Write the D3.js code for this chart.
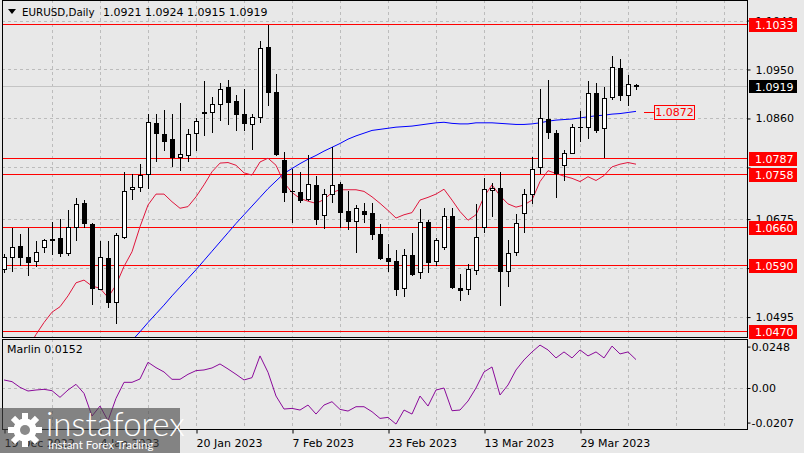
<!DOCTYPE html>
<html><head><meta charset="utf-8">
<script src="https://cdn.jsdelivr.net/npm/d3@7"></script>
<style>html,body{margin:0;padding:0;background:#e8e8e8;overflow:hidden}
text{font-family:"DejaVu Sans",sans-serif;font-size:11px}</style>
</head><body><svg id="c" width="804" height="453"></svg>
<script>
// ---- data ----
const title = "EURUSD,Daily";
const lastOHLC = [1.0921, 1.0924, 1.0915, 1.0919];
const opens  = [1.0583,1.0605,1.0626,1.0605,1.0598,1.0623,1.0638,1.0640,1.0612,1.0661,1.0705,1.0666,1.0547,1.0603,1.0522,1.0643,1.0730,1.0734,1.0758,1.0851,1.0831,1.0822,1.0789,1.0792,1.0833,1.0871,1.0872,1.0886,1.0917,1.0892,1.0868,1.0849,1.0863,1.0991,1.0909,1.0784,1.0727,1.0724,1.0712,1.0738,1.0683,1.0722,1.0740,1.0690,1.0672,1.0690,1.0686,1.0647,1.0603,1.0598,1.0548,1.0609,1.0577,1.0669,1.0598,1.0624,1.0680,1.0549,1.0546,1.0582,1.0661,1.0729,1.0732,1.0579,1.0614,1.0686,1.0722,1.0770,1.0859,1.0833,1.0774,1.0797,1.0845,1.0844,1.0906,1.0842,1.0899,1.0952,1.0904,1.0921];
const highs  = [1.0611,1.0659,1.0647,1.0659,1.0635,1.0639,1.0670,1.0675,1.0692,1.0713,1.0710,1.0667,1.0634,1.0634,1.0649,1.0761,1.0758,1.0776,1.0868,1.0869,1.0876,1.0869,1.0889,1.0840,1.0860,1.0929,1.0899,1.0926,1.0931,1.0903,1.0915,1.0868,1.1003,1.1032,1.0942,1.0799,1.0767,1.0761,1.0793,1.0754,1.0730,1.0808,1.0744,1.0726,1.0701,1.0705,1.0704,1.0666,1.0629,1.0618,1.0621,1.0649,1.0693,1.0673,1.0640,1.0695,1.0695,1.0575,1.0592,1.0703,1.0751,1.0741,1.0761,1.0637,1.0684,1.0730,1.0790,1.0914,1.0931,1.0839,1.0802,1.0850,1.0874,1.0929,1.0926,1.0917,1.0975,1.0970,1.0940,1.0924];
const lows   = [1.0577,1.0579,1.0591,1.0572,1.0588,1.0615,1.0611,1.0608,1.0610,1.0637,1.0661,1.0519,1.0546,1.0514,1.0484,1.0640,1.0712,1.0726,1.0732,1.0781,1.0802,1.0773,1.0765,1.0782,1.0802,1.0830,1.0836,1.0857,1.0850,1.0838,1.0839,1.0803,1.0854,1.0885,1.0792,1.0709,1.0669,1.0707,1.0710,1.0666,1.0658,1.0707,1.0661,1.0656,1.0614,1.0670,1.0638,1.0601,1.0579,1.0536,1.0533,1.0572,1.0566,1.0577,1.0591,1.0621,1.0548,1.0527,1.0538,1.0575,1.0651,1.0680,1.0518,1.0553,1.0609,1.0651,1.0705,1.0760,1.0825,1.0715,1.0746,1.0796,1.0819,1.0825,1.0836,1.0790,1.0896,1.0894,1.0885,1.0915];
const closes = [1.0606,1.0623,1.0605,1.0597,1.0614,1.0637,1.0636,1.0612,1.0660,1.0703,1.0667,1.0548,1.0605,1.0522,1.0645,1.0727,1.0734,1.0757,1.0853,1.0833,1.0819,1.0789,1.0794,1.0831,1.0855,1.0870,1.0886,1.0915,1.0891,1.0869,1.0851,1.0863,1.0989,1.0909,1.0795,1.0725,1.0726,1.0710,1.0740,1.0676,1.0722,1.0738,1.0689,1.0672,1.0696,1.0684,1.0647,1.0604,1.0598,1.0546,1.0610,1.0575,1.0669,1.0597,1.0637,1.0680,1.0550,1.0545,1.0583,1.0643,1.0730,1.0733,1.0579,1.0613,1.0667,1.0721,1.0768,1.0860,1.0835,1.0760,1.0797,1.0844,1.0844,1.0906,1.0839,1.0897,1.0954,1.0904,1.0923,1.0919];
const slowMAStart = 16;
const slowMA = [1.0452,1.0468,1.0485,1.0501,1.0517,1.0534,1.0550,1.0566,1.0582,1.0599,1.0616,1.0633,1.0650,1.0667,1.0683,1.0699,1.0715,1.0731,1.0745,1.0759,1.0768,1.0777,1.0785,1.0792,1.0800,1.0807,1.0814,1.0822,1.0828,1.0833,1.0838,1.0840,1.0842,1.0844,1.0845,1.0846,1.0848,1.0850,1.0852,1.0853,1.0851,1.0850,1.0850,1.0852,1.0852,1.0852,1.0851,1.0850,1.0849,1.0849,1.0850,1.0852,1.0855,1.0857,1.0858,1.0859,1.0861,1.0863,1.0865,1.0866,1.0868,1.0869,1.0871,1.0873];
const fastMAStart = 3;
const fastMA = [1.0438,1.0463,1.0485,1.0504,1.0514,1.0534,1.0558,1.0563,1.0552,1.0548,1.0531,1.0554,1.0588,1.0615,1.0661,1.0701,1.0721,1.0721,1.0707,1.0695,1.0698,1.0716,1.0738,1.0762,1.0778,1.0779,1.0774,1.0760,1.0756,1.0780,1.0787,1.0774,1.0742,1.0724,1.0713,1.0708,1.0704,1.0711,1.0724,1.0729,1.0729,1.0729,1.0726,1.0716,1.0704,1.0691,1.0677,1.0683,1.0687,1.0710,1.0715,1.0721,1.0730,1.0710,1.0689,1.0673,1.0683,1.0716,1.0738,1.0718,1.0703,1.0697,1.0701,1.0710,1.0744,1.0764,1.0759,1.0754,1.0750,1.0744,1.0753,1.0746,1.0755,1.0771,1.0776,1.0779,1.0776];
const marlin = [0.0048,0.0038,0.0004,-0.0018,-0.0012,-0.0008,-0.0016,-0.0056,-0.0012,0.0022,-0.0032,-0.0168,-0.0108,-0.0196,-0.0062,0.0034,0.0034,0.0054,0.0154,0.0122,0.0096,0.0052,0.0052,0.0082,0.0104,0.0108,0.0120,0.0144,0.0114,0.0082,0.0048,0.0062,0.0192,0.0094,-0.0048,-0.0126,-0.0122,-0.0132,-0.0102,-0.0156,-0.0102,-0.0082,-0.0128,-0.0138,-0.0112,-0.0112,-0.0142,-0.0182,-0.0176,-0.0216,-0.0132,-0.0156,-0.0048,-0.0108,-0.0012,0.0000,-0.0136,-0.0132,-0.0078,0.0000,0.0096,0.0126,-0.0042,0.0018,0.0108,0.0168,0.0216,0.0257,0.0228,0.0180,0.0216,0.0180,0.0228,0.0192,0.0216,0.0180,0.0251,0.0204,0.0216,0.0170];
const levels = [1.1033, 1.0787, 1.0758, 1.0660, 1.0590, 1.0470];
const priceTicks = [1.1040, 1.0950, 1.0860, 1.0770, 1.0675, 1.0585, 1.0495];
const priceTickLabels = [1.1040, 1.0950, 1.0860, 1.0675, 1.0495]; // labels not hidden by level boxes
const marlinTicks = [0.0248, 0, -0.0207];
const marlinTickLabels = ["0.0248", "0.00", "-0.0207"];
const dateTickIdx = [0, 12, 24, 36, 48, 60, 72];
const dateLabels = ["19 Dec 2022", "4 Jan 2023", "20 Jan 2023", "7 Feb 2023", "23 Feb 2023", "13 Mar 2023", "29 Mar 2023"];
const gridIdx = [6,12,18,24,30,36,42,48,54,60,66,72,78,84,90];
const slowMALabel = 1.0872;
const marlinName = "Marlin";
const marlinLast = 0.0152;

// ---- layout ----
const L = 2, R = 747, MT = 0, MB = 337, IT = 339, IB = 429;
const svg = d3.select("#c");
const x = d3.scaleLinear().domain([0, 79]).range([4, 636]);
const y = d3.scaleLinear().domain([1.04584, 1.10777]).range([MB, MT]);
const ym = d3.scaleLinear().domain([-0.02455, 0.02934]).range([IB, IT]);
const px = v => Math.round(v) + 0.5;
const fmt4 = d3.format(".4f");

const defs = svg.append("defs");
defs.append("clipPath").attr("id", "cm").append("rect").attr("x", L).attr("y", MT).attr("width", R - L).attr("height", MB - MT);
defs.append("clipPath").attr("id", "ci").append("rect").attr("x", L).attr("y", IT).attr("width", R - L).attr("height", IB - IT);

svg.append("rect").attr("width", 804).attr("height", 453).attr("fill", "#e8e8e8");

const grid = svg.append("g").attr("stroke", "#bcbcbc").attr("stroke-dasharray", "3,3").attr("shape-rendering", "crispEdges");
grid.selectAll(".hg").data(priceTicks).join("line")
  .attr("x1", L).attr("x2", R).attr("y1", d => px(y(d))).attr("y2", d => px(y(d)));
grid.selectAll(".vg").data(gridIdx).join("line")
  .attr("x1", d => px(x(d))).attr("x2", d => px(x(d))).attr("y1", MT).attr("y2", MB);
const grid2 = svg.append("g").attr("stroke", "#bcbcbc").attr("stroke-dasharray", "3,3").attr("shape-rendering", "crispEdges");
grid2.selectAll("line.v").data(gridIdx).join("line")
  .attr("x1", d => px(x(d))).attr("x2", d => px(x(d))).attr("y1", IT).attr("y2", IB);
grid2.append("line").attr("x1", L).attr("x2", R).attr("y1", px(ym(0))).attr("y2", px(ym(0)));

// current price line
svg.append("line").attr("x1", L).attr("x2", R).attr("y1", px(y(lastOHLC[3]))).attr("y2", px(y(lastOHLC[3])))
  .attr("stroke", "#c4c4c4").attr("shape-rendering", "crispEdges");

// level lines
const main = svg.append("g").attr("clip-path", "url(#cm)");
main.selectAll("line.lv").data(levels).join("line")
  .attr("x1", L).attr("x2", R).attr("y1", d => px(y(d))).attr("y2", d => px(y(d)))
  .attr("stroke", "#ff0000").attr("stroke-width", 1).attr("shape-rendering", "crispEdges");

// moving averages
const line = d3.line().x(d => x(d[0])).y(d => y(d[1]));
main.append("path").datum(slowMA.map((v, k) => [k + slowMAStart, v]))
  .attr("d", line).attr("fill", "none").attr("stroke", "#0000ff").attr("stroke-width", 1);
main.append("path").datum(fastMA.map((v, k) => [k + fastMAStart, v]))
  .attr("d", line).attr("fill", "none").attr("stroke", "#e0163c").attr("stroke-width", 1);

// candles
const cd = opens.map((o, i) => ({i, o, h: highs[i], l: lows[i], c: closes[i]}));
const cg = main.append("g").attr("shape-rendering", "crispEdges");
cg.selectAll("line.w").data(cd).join("line")
  .attr("x1", d => px(x(d.i))).attr("x2", d => px(x(d.i)))
  .attr("y1", d => Math.round(y(d.h))).attr("y2", d => Math.round(y(d.l)) + 1)
  .attr("stroke", "#000");
cd.forEach(d => {
  const top = Math.round(y(Math.max(d.o, d.c))), bot = Math.round(y(Math.min(d.o, d.c)));
  const cx = Math.round(x(d.i));
  if (bot - top < 1) {
    cg.append("line").attr("x1", cx - 2).attr("x2", cx + 3).attr("y1", top + 0.5).attr("y2", top + 0.5).attr("stroke", "#000");
  } else {
    cg.append("rect").attr("x", cx - 2 + 0.5).attr("y", top + 0.5).attr("width", 4).attr("height", bot - top)
      .attr("fill", d.c < d.o ? "#000" : "#fff").attr("stroke", "#000");
  }
});

// indicator
const ig = svg.append("g").attr("clip-path", "url(#ci)");
ig.append("path").datum(marlin.map((v, i) => [i, v]))
  .attr("d", d3.line().x(d => x(d[0])).y(d => ym(d[1])))
  .attr("fill", "none").attr("stroke", "#8a0a9a").attr("stroke-width", 1);

// borders
const bd = svg.append("g").attr("fill", "none").attr("stroke", "#000").attr("shape-rendering", "crispEdges");
bd.append("rect").attr("x", L + 0.5).attr("y", MT + 0.5).attr("width", R - L).attr("height", MB - MT);
bd.append("rect").attr("x", L + 0.5).attr("y", IT + 0.5).attr("width", R - L).attr("height", IB - IT);

// price axis
const pa = svg.append("g").attr("transform", `translate(${R + 0.5},0)`)
  .call(d3.axisRight(y).tickValues(priceTicks).tickSize(3).tickPadding(5)
    .tickFormat(d => priceTickLabels.includes(d) ? fmt4(d) : ""));
pa.select(".domain").remove();
pa.selectAll("text").attr("font-family", "DejaVu Sans").attr("font-size", 11).attr("fill", "#000");
pa.selectAll("line").attr("stroke", "#000");

// indicator axis
const ia = svg.append("g").attr("transform", `translate(${R + 0.5},0)`)
  .call(d3.axisRight(ym).tickValues(marlinTicks).tickSize(3).tickPadding(1).tickFormat((d, k) => marlinTickLabels[k]));
ia.select(".domain").remove();
ia.selectAll("text").attr("font-family", "DejaVu Sans").attr("font-size", 11).attr("fill", "#000");
ia.selectAll("line").attr("stroke", "#000");

// date axis
const da = svg.append("g").attr("transform", `translate(0,${IB + 0.5})`)
  .call(d3.axisBottom(x).tickValues(dateTickIdx).tickSize(4).tickPadding(3).tickFormat((d, k) => dateLabels[k]));
da.select(".domain").remove();
da.selectAll(".tick line").attr("stroke", "#000").attr("transform", "translate(0.5,0)");
da.selectAll("text").attr("text-anchor", "start").attr("x", 0).attr("dy", "0.95em")
  .attr("font-family", "DejaVu Sans").attr("font-size", 11).attr("fill", "#000");

// level labels (right)
const lvl = svg.append("g");
levels.forEach(v => {
  const yy = Math.round(y(v));
  lvl.append("rect").attr("x", 749).attr("y", yy - 6).attr("width", 48).attr("height", 14).attr("fill", "#ff0000");
  lvl.append("text").attr("x", 755).attr("y", yy + 1).attr("dy", "0.35em").attr("fill", "#fff").text(fmt4(v));
});
{
  const yy = Math.round(y(lastOHLC[3]));
  lvl.append("rect").attr("x", 749).attr("y", yy - 6).attr("width", 48).attr("height", 13).attr("fill", "#000");
  lvl.append("text").attr("x", 755).attr("y", yy + 1).attr("dy", "0.35em").attr("fill", "#fff").text(fmt4(lastOHLC[3]));
}

// MA label box
{
  const yy = Math.round(y(slowMALabel)) + 0.5;
  svg.append("line").attr("x1", 644).attr("x2", 654).attr("y1", yy).attr("y2", yy).attr("stroke", "#ff0000");
  svg.append("rect").attr("x", 654.5).attr("y", yy - 7).attr("width", 40).attr("height", 14)
    .attr("fill", "#e8e8e8").attr("stroke", "#ff0000").attr("shape-rendering", "crispEdges");
  svg.append("text").attr("x", 674.5).attr("y", yy).attr("dy", "0.36em").attr("text-anchor", "middle")
    .attr("fill", "#ff0000").text(fmt4(slowMALabel));
}

// titles
svg.append("path").attr("d", "M8,9 L16,9 L12,14 Z").attr("fill", "#000");
const tt = svg.append("text").attr("x", 22).attr("y", 16).attr("fill", "#000");
tt.append("tspan").attr("font-size", 10.3).text(title);
tt.append("tspan").attr("x", 103).text(lastOHLC.map(fmt4).join(" "));
svg.append("text").attr("x", 7).attr("y", 353).attr("fill", "#000").text(marlinName + " " + fmt4(marlinLast));

// watermark
const wm = svg.append("g");
wm.append("rect").attr("x", 0).attr("y", 408).attr("width", 180).attr("height", 45).attr("fill", "rgba(70,70,70,0.62)");
const gear = wm.append("g").attr("transform", "translate(25,430)").attr("fill", "#fff");
d3.range(8).forEach(k => {
  gear.append("rect").attr("x", -3).attr("y", -17).attr("width", 6).attr("height", 8)
    .attr("transform", `rotate(${k * 45})`);
});
gear.append("circle").attr("r", 11.5);
gear.append("circle").attr("r", 5).attr("fill", "#8a8a8a");
wm.append("text").attr("x", 46).attr("y", 436).attr("fill", "#fff").style("font-size", "33px")
  .style("font-family", "Lato, 'Open Sans', sans-serif").style("font-weight", 300).text("instaforex");
wm.append("text").attr("x", 48).attr("y", 449).attr("fill", "#fff").style("font-size", "11.5px")
  .style("font-family", "Lato, 'Open Sans', sans-serif").text("Instant Forex Trading");
</script></body></html>
